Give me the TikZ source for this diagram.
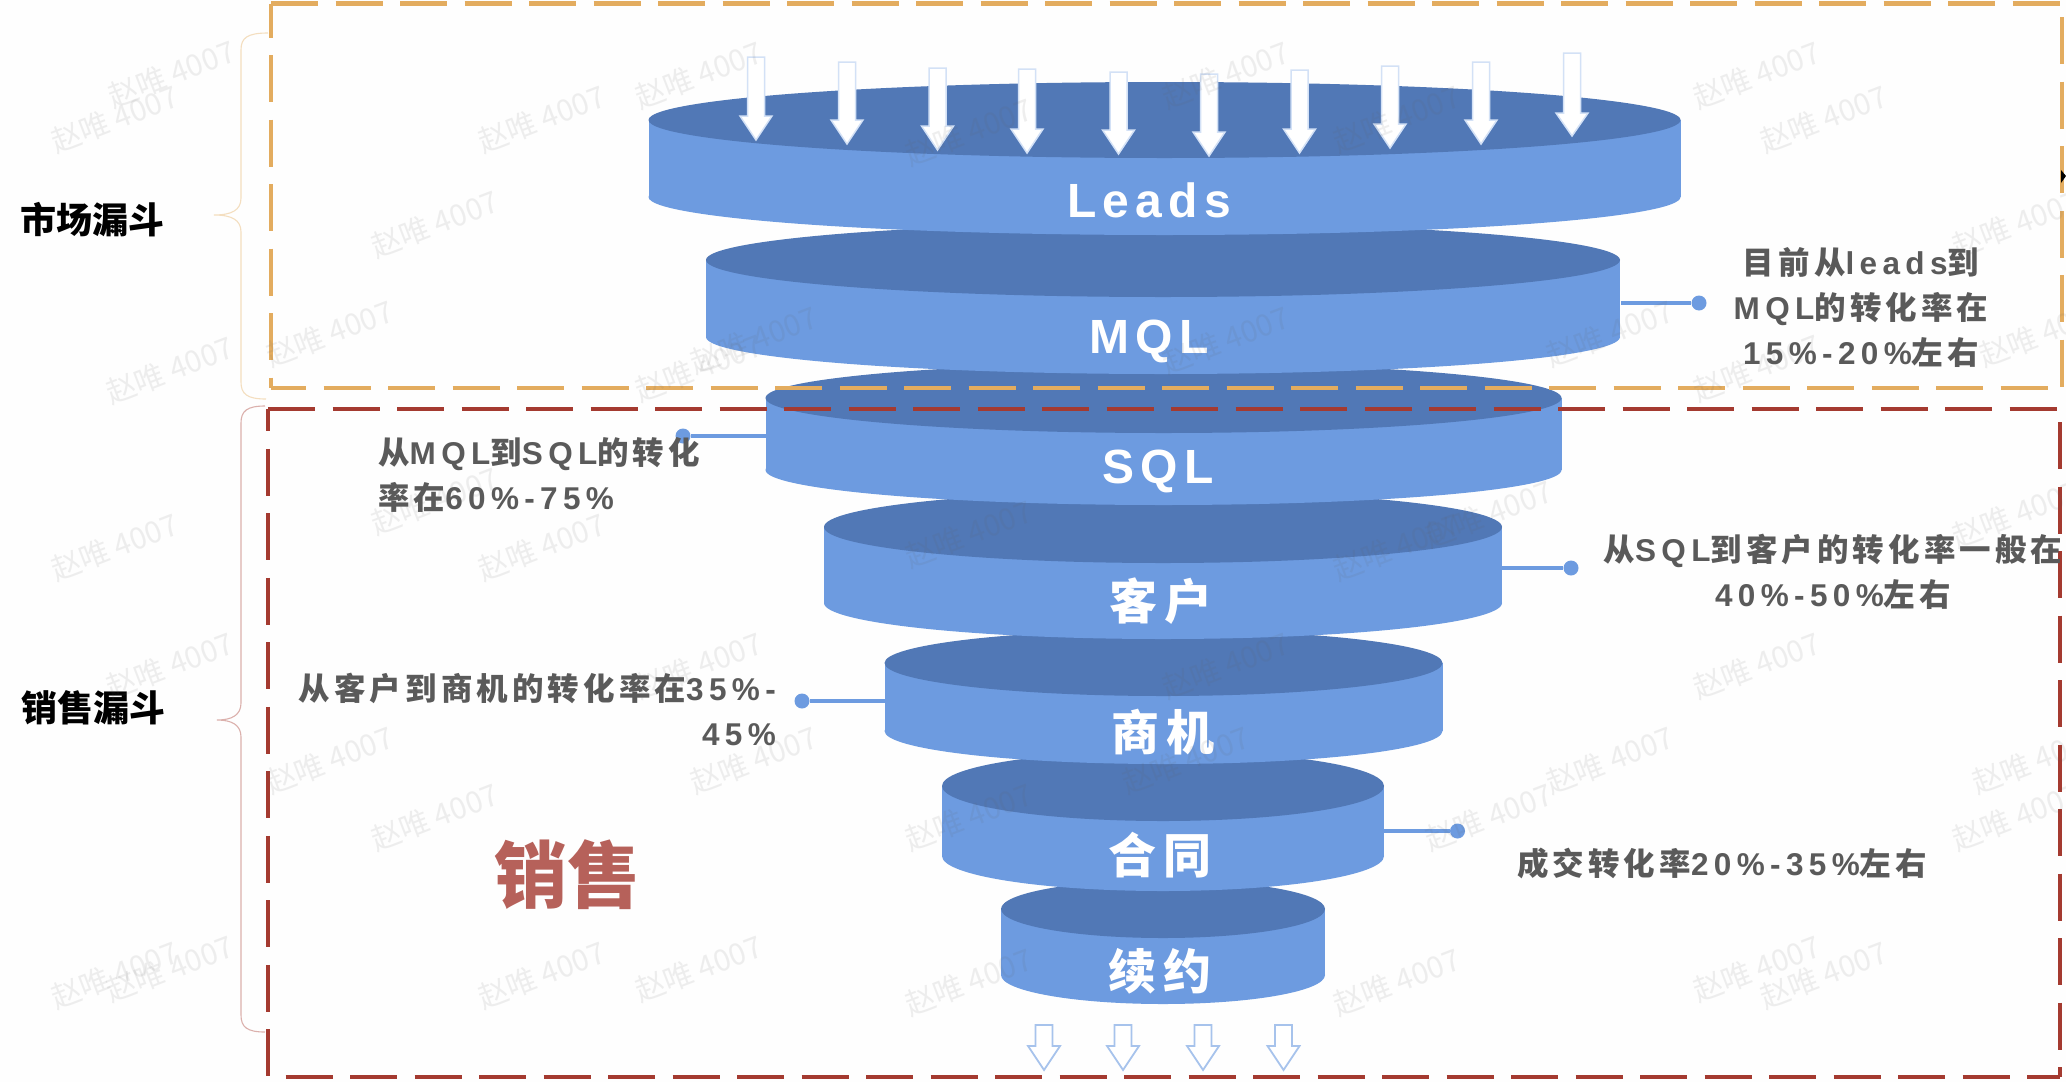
\documentclass[tikz,border=0pt]{standalone}
\usepackage{fontspec}
\setmainfont{Liberation Sans}
\newfontfamily\latbody[LetterSpace=17]{Liberation Sans}
\newfontfamily\latdisc[LetterSpace=13]{Liberation Sans}
\newfontfamily\zhbody[LetterSpace=13]{Noto Sans CJK SC}
\newfontfamily\zhplain{Noto Sans CJK SC}
\newcommand{\Z}[1]{{\zhbody\bfseries #1}}
\definecolor{sideblue}{HTML}{6D9BE0}
\definecolor{topblue}{HTML}{5178B6}
\definecolor{gold}{HTML}{E3AC5F}
\definecolor{brick}{HTML}{A43A30}
\definecolor{bodygray}{HTML}{5A5A5A}
\tikzset{
  x=1pt,y=-1pt,
  sidefill/.style={fill=sideblue},
  topfill/.style={fill=topblue},
  goldbox/.style={draw=gold,line width=4.6pt,dash pattern=on 47pt off 17.5pt},
  redbox/.style={draw=brick,line width=4.6pt,dash pattern=on 47pt off 17.5pt},
  bodytext/.style={inner sep=0pt,text=bodygray,font=\latbody\bfseries\fontsize{31.5}{45}\selectfont},
  disclabel/.style={inner sep=0pt,text=white,font=\latdisc\bfseries\fontsize{48}{48}\selectfont},
  sidelabel/.style={inner sep=0pt,text=black,font=\zhplain\bfseries\fontsize{36}{36}\selectfont},
  conn/.style={draw=sideblue,line width=4pt},
  dot/.style={circle,fill=sideblue,inner sep=0pt,minimum size=15pt},
  topshape/.style={draw=sideblue!30!white,line width=1.5pt,fill=white,line join=miter},
  botshape/.style={draw=sideblue!60!white,line width=1.8pt,fill=white,line join=miter},
  bracelinegold/.style={draw=gold!40!white,line width=1.1pt},
  bracelinered/.style={draw=brick!40!white,line width=1.1pt},
  watermark/.style={inner sep=0pt,rotate=21,text=black!62,opacity=0.10,font=\zhplain\fontsize{30}{30}\selectfont},
}
\newcommand{\disc}[5]{% cx rx ry top bottom
  \fill[sidefill] (#1,#5) ellipse [x radius=#2pt,y radius=#3pt];
  \fill[sidefill] (#1-#2,#4) rectangle (#1+#2,#5);
  \fill[topfill] (#1,#4) ellipse [x radius=#2pt,y radius=#3pt];
}
\newcommand{\downarrowshape}[5]{% x top tip style headbase
  \draw[#4] (#1-8.5,#2) -- (#1+8.5,#2) -- (#1+8.5,#5) -- (#1+16,#5) -- (#1,#3) -- (#1-16,#5) -- (#1-8.5,#5) -- cycle;
}
\begin{document}
\begin{tikzpicture}
\useasboundingbox (0,0) rectangle (2066,1082);
\fill[white!99.5!black] (0,0) rectangle (2066,1082);

% funnel discs, lowest first so each upper rim overlaps the next
\disc{1163}{162}{29}{909}{975}
\disc{1163}{221}{35}{786}{856}
\disc{1163.5}{279}{33}{663}{731}
\disc{1163}{339}{36}{527}{603}
\disc{1163.5}{398}{35}{398}{470}
\disc{1163}{457}{37}{260}{337}
\disc{1164.5}{516}{38}{120}{197}

% dashed frames
\coordinate (gTL) at (271,3.5);
\coordinate (gTR) at (2062,3.5);
\coordinate (gBR) at (2062,388);
\coordinate (gBL) at (271,388);
\coordinate (rTL) at (268,409);
\coordinate (rTR) at (2060,409);
\coordinate (rBR) at (2060,1077);
\coordinate (rBL) at (268,1077);
\draw[goldbox] (gTL) -- (gTR);
\draw[goldbox,dash phase=13pt] (gTL) -- (gBL);
\draw[goldbox,dash phase=51pt] (gTR) -- (gBR);
\draw[goldbox,dash phase=12pt] (gBL) -- (gBR);
\draw[redbox] (rTL) -- (rTR);
\draw[redbox,dash phase=24.6pt] (rTL) -- (rBL);
\draw[redbox,dash phase=51.5pt] (rTR) -- (rBR);
\draw[redbox,dash phase=47pt] (rBL) -- (rBR);

% braces
\draw[bracelinegold] (268,33) .. controls (247,33) and (241,38) .. (241,50) -- (241,198)
  .. controls (241,210) and (232,215) .. (214,215) .. controls (232,215) and (241,220) .. (241,232)
  -- (241,382) .. controls (241,394) and (247,399) .. (266,399);
\draw[bracelinered] (265,406) .. controls (247,406) and (241,411) .. (241,423) -- (241,703)
  .. controls (241,715) and (232,720) .. (217,720) .. controls (232,720) and (241,725) .. (241,737)
  -- (241,1015) .. controls (241,1027) and (247,1032) .. (265,1032);

% inflow arrows
\downarrowshape{756}{57}{140}{topshape}{116}
\downarrowshape{847}{62}{144}{topshape}{120}
\downarrowshape{937.5}{68}{150}{topshape}{126}
\downarrowshape{1027}{69}{153}{topshape}{129}
\downarrowshape{1118.5}{72}{154}{topshape}{130}
\downarrowshape{1209}{74}{156}{topshape}{132}
\downarrowshape{1299.5}{70}{153}{topshape}{129}
\downarrowshape{1390}{66}{148}{topshape}{124}
\downarrowshape{1481}{62}{144}{topshape}{120}
\downarrowshape{1572}{53}{136}{topshape}{113}

% outflow arrows
\downarrowshape{1044}{1025}{1070}{botshape}{1046}
\downarrowshape{1123}{1025}{1070}{botshape}{1046}
\downarrowshape{1203}{1025}{1070}{botshape}{1046}
\downarrowshape{1283.5}{1025}{1070}{botshape}{1046}

% disc labels
\node[disclabel] (leads) at (1149,200) {Leads};
\node[disclabel] (mql) at (1149,341) {MQL};
\node[disclabel] (sql) at (1158,471) {SQL};
\node[disclabel] (kehu) at (1161,601) {\Z{客户}};
\node[disclabel] (shangji) at (1163,732) {\Z{商机}};
\node[disclabel] (hetong) at (1160,855) {\Z{合同}};
\node[disclabel] (xuyue) at (1160,971) {\Z{续约}};

% connectors
\coordinate (mqlEdge) at (1621,303);
\coordinate (sqlEdge) at (766,436);
\coordinate (kehuEdge) at (1502,568);
\coordinate (shangjiEdge) at (885,701);
\coordinate (hetongEdge) at (1384,831);
\node[dot] (mqlDot) at (1699,303) {};
\node[dot] (sqlDot) at (683,436) {};
\node[dot] (kehuDot) at (1571,568) {};
\node[dot] (shangjiDot) at (802,701) {};
\node[dot] (hetongDot) at (1457.5,831) {};
\draw[conn] (mqlEdge) -- (mqlDot);
\draw[conn] (sqlEdge) -- (sqlDot);
\draw[conn] (kehuEdge) -- (kehuDot);
\draw[conn] (shangjiEdge) -- (shangjiDot);
\draw[conn] (hetongEdge) -- (hetongDot);

% annotations
\node[bodytext,align=center] (noteA) at (1861,308) {\Z{目前从}leads\Z{到}\\MQL\Z{的转化率在}\\15\%-20\%\Z{左右}};
\node[bodytext,align=left,anchor=west] (noteB) at (378,475) {\Z{从}MQL\Z{到}SQL\Z{的转化}\\\Z{率在}60\%-75\%};
\node[bodytext,align=center] (noteC) at (1833,571.5) {\Z{从}SQL\Z{到客户的转化率一般在}\\40\%-50\%\Z{左右}};
\node[bodytext,align=right,anchor=east] (noteD) at (776,709.5) {\Z{从客户到商机的转化率在}35\%-\\45\%};
\node[bodytext,anchor=west] (noteE) at (1517,863) {\Z{成交转化率}20\%-35\%\Z{左右}};

% side titles
\node[sidelabel,anchor=west] (market) at (20,220) {市场漏斗};
\node[sidelabel,anchor=west] (sales) at (21,708) {销售漏斗};
\node[inner sep=0pt,text=brick!80!white,font=\zhplain\bfseries\fontsize{73}{73}\selectfont] (bigsales) at (567,875) {销售};

% small pointer mark at the right edge
\fill[black] (2061,170) -- (2066,176) -- (2061,183) -- cycle;

% watermarks
\foreach \wx/\wy [count=\wi] in {
 130/56,87/90,530/57,411/90,330/170,250/253,129/281,572/258,530/279,930/57,
 1333/57,1384/90,735/100,1060/90,1530/170,1222/253,1550/253,1333/279,930/258,87/415,
 411/415,330/380,735/405,1130/390,1060/415,1530/390,129/505,530/505,930/505,1333/505,
 250/577,572/577,900/577,1222/577,1545/577,330/620,735/620,1130/620,1530/620,
 129/735,87/740,411/740,530/735,735/745,1060/745,1333/735,1384/740}
  \node[watermark] (wm\wi) at (\wx*1.3176,\wy*1.3176) {赵唯 4007};
\end{tikzpicture}
\end{document}
